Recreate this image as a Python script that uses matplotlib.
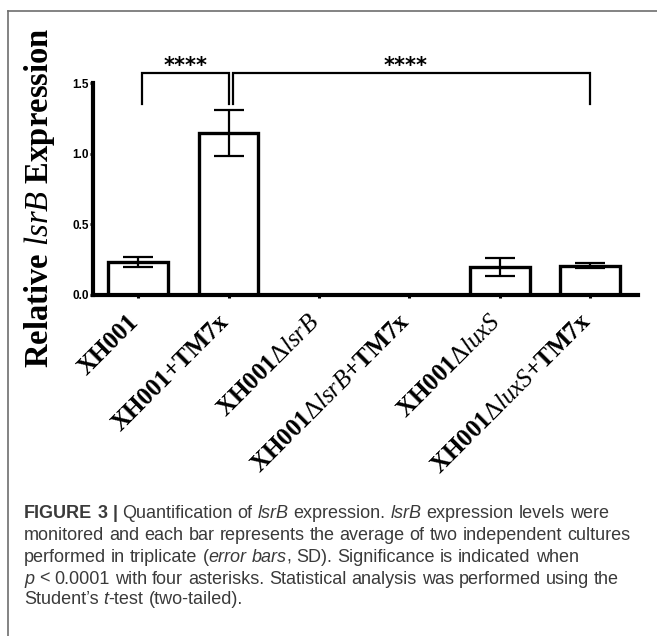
import re
import numpy as np
import matplotlib
matplotlib.use("Agg")
import matplotlib.pyplot as plt
from matplotlib.lines import Line2D
from matplotlib.transforms import ScaledTranslation

# ---------------- data ----------------
categories = [r"XH001",
              r"XH001+TM7x",
              r"XH001$\mathsf{\Delta}\mathit{lsrB}$",
              r"XH001$\mathsf{\Delta}\mathit{lsrB}$+TM7x",
              r"XH001$\mathsf{\Delta}\mathit{luxS}$",
              r"XH001$\mathsf{\Delta}\mathit{luxS}$+TM7x"]
means = [0.235, 1.147, 0.0, 0.0, 0.198, 0.207]
sds = [0.036, 0.163, 0.0, 0.0, 0.066, 0.016]
yticks = [0.0, 0.5, 1.0, 1.5]
ytick_labels = ["0.0", "0.5", "1.0", "1.5"]
# significance brackets: (x_left, x_right, label)
sig_pairs = [(0, 1, "****"), (1, 5, "****")]
ylabel = r"Relative $\mathit{lsrB}$ Expression"

caption_lines = [
    [("FIGURE 3 |", "bold"), (" Quantification of ", "normal"), ("lsrB", "italic"),
     (" expression. ", "normal"), ("lsrB", "italic"), (" expression levels were", "normal")],
    [("monitored and each bar represents the average of two independent cultures", "normal")],
    [("performed in triplicate (", "normal"), ("error bars", "italic"),
     (", SD). Significance is indicated when", "normal")],
    [("p", "italic"), (" < 0.0001 with four asterisks. Statistical analysis was performed using the", "normal")],
    [("Student\u2019s ", "normal"), ("t", "italic"), ("-test (two-tailed).", "normal")],
]

# ---------------- style ----------------
plt.rcParams['mathtext.fontset'] = 'custom'
plt.rcParams['mathtext.rm'] = 'Liberation Serif:bold'
plt.rcParams['mathtext.bf'] = 'Liberation Serif:bold'
plt.rcParams['mathtext.it'] = 'Liberation Serif:italic'
plt.rcParams['mathtext.sf'] = 'Liberation Serif'

W, H = 657, 636
fig = plt.figure(figsize=(W / 100, H / 100), dpi=100)

# frame lines (left and top)
fig.add_artist(Line2D([7.5 / W, 7.5 / W], [0, 1 - 11 / H], transform=fig.transFigure,
                      color="#6e6e6e", lw=1.2))
fig.add_artist(Line2D([7.5 / W, 1], [1 - 11 / H, 1 - 11 / H], transform=fig.transFigure,
                      color="#6e6e6e", lw=1.2))

ax_l, ax_r, ax_b, ax_t = 93, 638, 295, 83
ax = fig.add_axes([ax_l / W, 1 - ax_b / H, (ax_r - ax_l) / W, (ax_b - ax_t) / H])

x = np.arange(len(categories))
ax.bar(x, means, width=0.66, color="white", edgecolor="black", linewidth=2.4, zorder=2)
ax.errorbar(x, means, yerr=sds, fmt="none", ecolor="black", elinewidth=1.6,
            capsize=10.5, capthick=1.6, zorder=2.6)

ax.set_xlim(-0.5, len(categories) - 1 + 0.53)
ax.set_ylim(0, 1.5)
for s in ["top", "right"]:
    ax.spines[s].set_visible(False)
for s in ["left", "bottom"]:
    ax.spines[s].set_linewidth(3.0)
    ax.spines[s].set_zorder(3)

ax.set_yticks(yticks)
ax.set_yticklabels(ytick_labels, fontfamily="Liberation Sans", fontweight="bold", fontsize=8.5)
ax.tick_params(axis="y", direction="out", length=2, width=2, pad=1)
ax.set_xticks(x)
ax.set_xticklabels(categories, rotation=45, ha="right", fontfamily="Liberation Serif",
                   fontweight="bold", fontsize=18)
ax.tick_params(axis="x", direction="out", length=2.2, width=2.2, pad=8.5)
shift = ScaledTranslation(5 / 100, 0, fig.dpi_scale_trans)
for lab in ax.get_xticklabels():
    lab.set_transform(lab.get_transform() + shift)

ax.set_ylabel(ylabel, fontfamily="Liberation Serif", fontweight="bold", fontsize=23.5)
ax.yaxis.set_label_coords((57 - ax_l) / (ax_r - ax_l), (ax_b - 198) / (ax_b - ax_t))

# significance brackets
y_top, y_leg = 1.571, 1.352
offs = [(0.045, 0.0), (0.045, 0.0)]
star_x = [0.52, 2.96]
for (a, b, lab), (oa, ob), sx in zip(sig_pairs, offs, star_x):
    xa, xb = a + oa, b + ob
    ax.plot([xa, xa, xb, xb], [y_leg, y_top, y_top, y_leg], color="black", lw=1.6,
            clip_on=False, solid_joinstyle="miter", zorder=4)
    ax.text(sx, 1.578, lab, ha="center", va="baseline", fontfamily="DejaVu Sans",
            fontweight="bold", fontsize=15, clip_on=False)

# ---------------- caption ----------------
renderer = fig.canvas.get_renderer()
cap_size = 12.0
cap_color = "#3a3a3a"
x0 = 24
line_y = [514, 536, 557, 579, 600]


def style_kw(st):
    kw = dict(fontfamily="Liberation Sans", fontsize=cap_size, color=cap_color)
    if st == "bold":
        kw["fontweight"] = "bold"
    elif st == "italic":
        kw["fontstyle"] = "italic"
    return kw


def text_w(s, st):
    t = fig.text(0, 0, s, **style_kw(st))
    w = t.get_window_extent(renderer).width
    t.remove()
    return w


# fit caption font size so line 2 spans the reference width
target = 632 - x0
w2 = text_w(caption_lines[1][0][0], "normal")
cap_size = cap_size * target / w2

for line, yy in zip(caption_lines, line_y):
    xc = x0
    for txt, st in line:
        sp_w = text_w("a a", st) - text_w("aa", st)
        for tok in re.split(r"( )", txt):
            if tok == "":
                continue
            if tok == " ":
                xc += sp_w
                continue
            t = fig.text(xc / W, 1 - yy / H, tok, va="center", ha="left", **style_kw(st))
            xc += t.get_window_extent(renderer).width

fig.savefig("out.png", dpi=100)
